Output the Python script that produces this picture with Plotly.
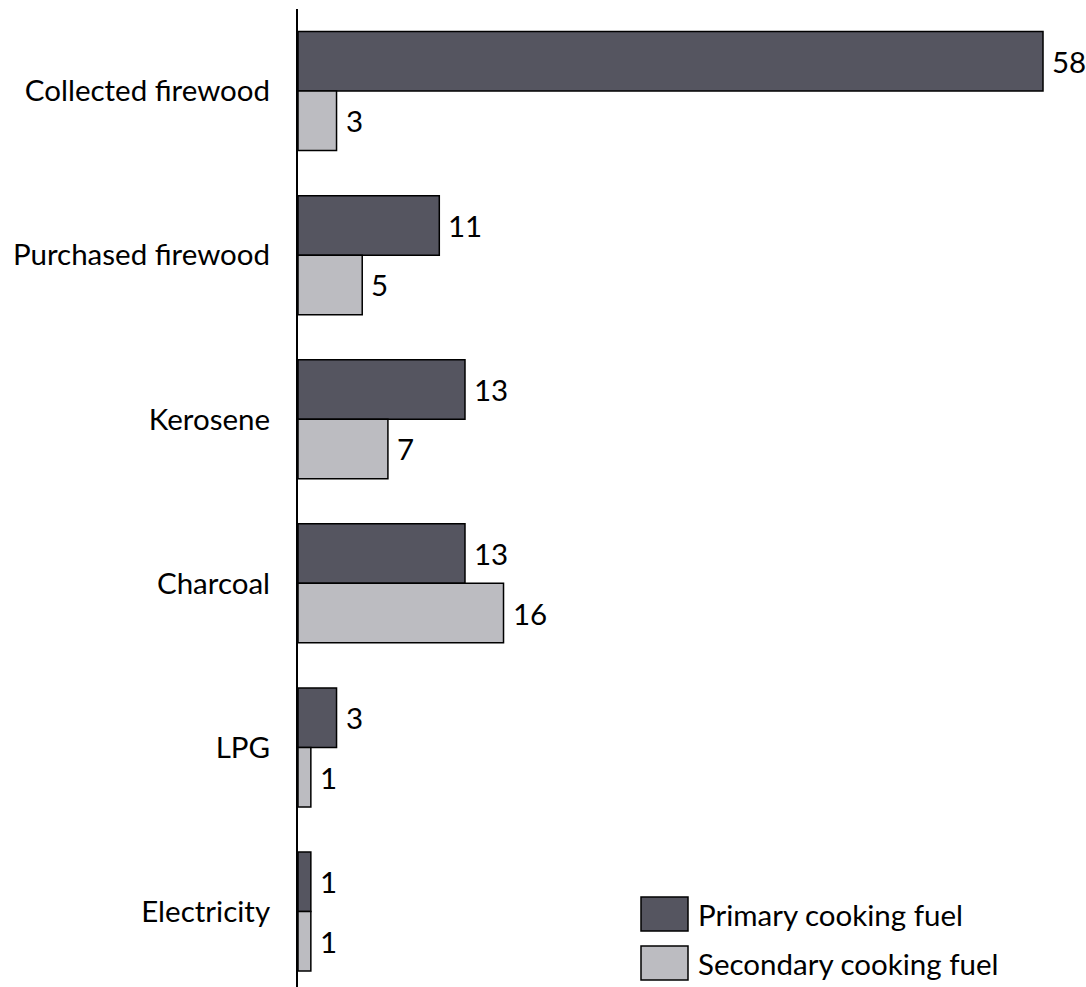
import plotly.graph_objects as go

# Household cooking fuel shares (%)
fuels = ["Collected firewood", "Purchased firewood", "Kerosene", "Charcoal", "LPG", "Electricity"]
primary = [58, 11, 13, 13, 3, 1]
secondary = [3, 5, 7, 16, 1, 1]

series_names = ["Primary cooking fuel", "Secondary cooking fuel"]
series_colors = ["#555560", "#bcbcc1"]

FONT = "Lato"
FSIZE = 29.5

fig = go.Figure()
for name, vals, col in zip(series_names, [primary, secondary], series_colors):
    fig.add_trace(go.Bar(
        y=fuels, x=vals, orientation="h", name=name,
        marker=dict(color=col, line=dict(color="black", width=1.5)),
        showlegend=False,
    ))

# value labels beside each bar
bar_px = 164.1 * (1 - 0.275) / 2
for i, vals in enumerate([primary, secondary]):
    shift = bar_px / 2 if i == 0 else -bar_px / 2
    for cat, v in zip(fuels, vals):
        fig.add_annotation(
            x=v, y=cat, text=str(v), showarrow=False,
            xanchor="left", yanchor="middle", xshift=7, yshift=shift,
            font=dict(family=FONT, size=FSIZE, color="black"),
        )

# legend drawn as boxes with captions
L, R, T, B = 298, 1082, 9, 987
def px(x):
    return (x - L) / (R - L)
def py(y):
    return (B - y) / (B - T)

for (y0, y1), name, col in zip([(897, 931), (946, 980)], series_names, series_colors):
    fig.add_shape(type="rect", xref="paper", yref="paper",
                  x0=px(641), x1=px(688), y0=py(y1), y1=py(y0),
                  fillcolor=col, line=dict(color="black", width=1.5))
    fig.add_annotation(xref="paper", yref="paper", x=px(696), y=py((y0 + y1) / 2),
                       text=name, showarrow=False, xanchor="left", yanchor="middle",
                       font=dict(family=FONT, size=FSIZE, color="black"))

fig.update_layout(
    width=1086, height=987,
    margin=dict(l=L, r=1086 - R, t=T, b=987 - B),
    barmode="group", bargap=0.275, bargroupgap=0,
    plot_bgcolor="white", paper_bgcolor="white",
    font=dict(family=FONT, size=FSIZE, color="black"),
)
fig.update_xaxes(range=[0, (R - L) / 12.845], showticklabels=False, showgrid=False,
                 zeroline=False, showline=False, ticks="")
fig.update_yaxes(type="category", categoryorder="array", categoryarray=fuels,
                 range=[5.46, -0.5], showline=True, linecolor="black", linewidth=2,
                 showgrid=False, zeroline=False, ticks="", ticklabelstandoff=20,
                 tickfont=dict(family=FONT, size=FSIZE, color="black"))

fig.write_html("out.html")
